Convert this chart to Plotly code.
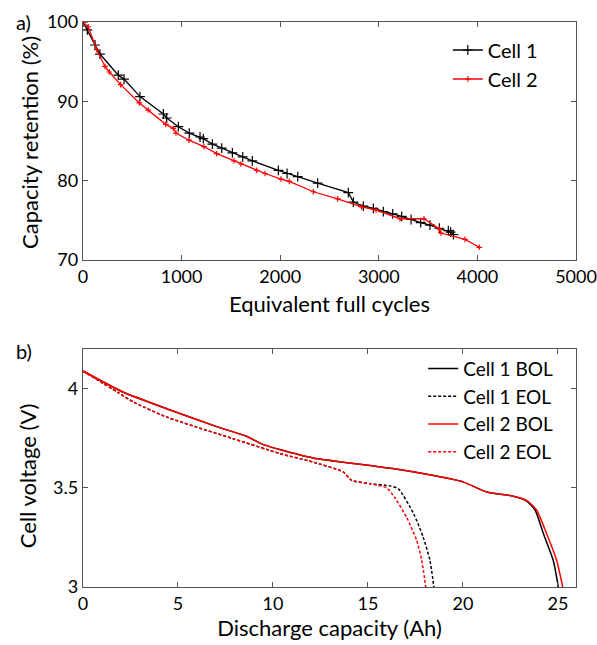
import plotly.graph_objects as go

# ---- Panel a) capacity retention ----
cell1_cycles = [0, 44, 122, 172, 358, 416, 578, 815, 849, 967, 1078, 1187, 1220, 1312, 1407, 1515,
                1620, 1717, 1981, 2070, 2178, 2380, 2691, 2742, 2843, 2945, 3046, 3141, 3232, 3327,
                3425, 3519, 3614, 3705, 3729, 3756]
cell1_ret = [100, 99.0, 97.1, 95.96, 93.3, 92.8, 90.6, 88.4, 87.9, 86.8, 86.0, 85.5, 85.3, 84.6, 84.1,
             83.5, 83.0, 82.5, 81.3, 80.9, 80.5, 79.7, 78.5, 77.3, 76.8, 76.5, 76.1, 75.8, 75.5, 75.1,
             74.7, 74.4, 74.0, 73.7, 73.5, 73.2]

cell2_cycles = [0, 54, 139, 223, 267, 382, 571, 662, 839, 916, 943, 1075, 1227, 1356, 1531, 1602,
                1762, 1846, 2008, 2092, 2336, 2583, 2826, 2972, 3215, 3458, 3614, 3631, 3874, 4019]
cell2_ret = [100, 99.4, 96.5, 94.4, 93.7, 92.1, 89.8, 88.9, 87.1, 86.6, 86.0, 85.1, 84.3, 83.4, 82.5,
             82.1, 81.3, 80.9, 80.2, 79.9, 78.6, 77.7, 76.7, 76.3, 75.2, 75.2, 73.9, 73.4, 72.6, 71.6]

# ---- Panel b) discharge curves ----
c1_bol_q = [0, 2.1, 4.4, 7.0, 8.6, 9.5, 10.4, 12.1, 15.0, 16.3, 18.1, 20.0, 21.25, 22.65, 23.3, 23.8, 24.23, 24.75, 25.02]
c1_bol_v = [4.089, 3.983, 3.899, 3.81, 3.760, 3.718, 3.692, 3.651, 3.614, 3.597, 3.568, 3.530, 3.479, 3.458, 3.437, 3.387, 3.270, 3.135, 3.0]
c2_bol_q = [0, 2.1, 4.4, 7.0, 8.6, 9.5, 10.4, 12.1, 15.0, 16.3, 18.1, 20.0, 21.25, 22.65, 23.35, 23.88, 24.4, 24.93, 25.25]
c2_bol_v = [4.089, 3.983, 3.899, 3.81, 3.760, 3.718, 3.692, 3.651, 3.614, 3.597, 3.568, 3.530, 3.479, 3.458, 3.437, 3.387, 3.270, 3.135, 3.0]
c1_eol_q = [0, 1.85, 2.65, 4.4, 7.9, 10.4, 12.1, 13.7, 14.14, 15.1, 16.16, 16.6, 17.4, 17.9, 18.26, 18.47]
c1_eol_v = [4.089, 3.98, 3.933, 3.857, 3.748, 3.672, 3.63, 3.58, 3.538, 3.521, 3.51, 3.495, 3.37, 3.253, 3.135, 3.0]
c2_eol_q = [0, 1.85, 2.65, 4.4, 7.9, 10.4, 12.1, 13.7, 14.14, 15.1, 15.98, 16.42, 17.04, 17.56, 17.83, 18.04]
c2_eol_v = [4.089, 3.98, 3.933, 3.857, 3.748, 3.672, 3.63, 3.58, 3.538, 3.521, 3.50, 3.45, 3.35, 3.236, 3.135, 3.0]

FONT = "Lato"
AX = "#555555"

fig = go.Figure()
fig.add_trace(go.Scatter(x=cell1_cycles, y=cell1_ret, name="Cell 1", mode="lines+markers",
                         line=dict(color="black", width=1.3),
                         marker=dict(symbol="cross-thin", size=7, line=dict(color="black", width=1.2)),
                         xaxis="x", yaxis="y", legend="legend"))
fig.add_trace(go.Scatter(x=cell2_cycles, y=cell2_ret, name="Cell 2", mode="lines+markers",
                         line=dict(color="red", width=1.3),
                         marker=dict(symbol="cross-thin", size=4, line=dict(color="red", width=1.2)),
                         xaxis="x", yaxis="y", legend="legend"))

fig.add_trace(go.Scatter(x=c1_bol_q, y=c1_bol_v, name="Cell 1 BOL", mode="lines",
                         line=dict(color="black", width=1.5, shape="spline", smoothing=0.6),
                         xaxis="x2", yaxis="y2", legend="legend2"))
fig.add_trace(go.Scatter(x=c1_eol_q, y=c1_eol_v, name="Cell 1 EOL", mode="lines",
                         line=dict(color="black", width=1.5, dash="3px,2px", shape="spline", smoothing=0.6),
                         xaxis="x2", yaxis="y2", legend="legend2"))
fig.add_trace(go.Scatter(x=c2_bol_q, y=c2_bol_v, name="Cell 2 BOL", mode="lines",
                         line=dict(color="red", width=1.5, shape="spline", smoothing=0.6),
                         xaxis="x2", yaxis="y2", legend="legend2"))
fig.add_trace(go.Scatter(x=c2_eol_q, y=c2_eol_v, name="Cell 2 EOL", mode="lines",
                         line=dict(color="red", width=1.5, dash="3px,2px", shape="spline", smoothing=0.6),
                         xaxis="x2", yaxis="y2", legend="legend2"))

axis_common = dict(showline=True, linecolor=AX, linewidth=1.3, mirror="ticks", ticks="inside",
                   ticklen=5, tickcolor=AX, showgrid=False, zeroline=False, automargin=False,
                   tickfont=dict(family=FONT, size=18, color="black"))
TF = dict(family=FONT, size=22)

fig.update_layout(
    width=597, height=645,
    margin=dict(l=83, r=21, t=22, b=58),
    plot_bgcolor="white", paper_bgcolor="white",
    font=dict(family=FONT, size=18, color="black"),
    xaxis=dict(**axis_common, domain=[0, 1], anchor="y", range=[0, 5000],
               tickvals=[0, 1000, 2000, 3000, 4000, 5000],
               title=dict(text="Equivalent full cycles", font=TF, standoff=10)),
    yaxis=dict(**axis_common, domain=[0.5788, 1.0], anchor="x", range=[70, 100],
               tickvals=[70, 80, 90, 100]),
    xaxis2=dict(**axis_common, domain=[0, 1], anchor="y2", range=[0, 25.95],
                tickvals=[0, 5, 10, 15, 20, 25],
                title=dict(text="Discharge capacity (Ah)", font=TF, standoff=3)),
    yaxis2=dict(**axis_common, domain=[0, 0.4212], anchor="x2", range=[3, 4.2],
                tickvals=[3, 3.5, 4], ticktext=["3", "3.5", "4"]),
    legend=dict(x=0.74, y=0.985, xanchor="left", yanchor="top", bgcolor="rgba(0,0,0,0)",
                font=dict(family=FONT, size=20), itemwidth=30, tracegroupgap=0),
    legend2=dict(x=0.69, y=0.42, xanchor="left", yanchor="top", bgcolor="rgba(0,0,0,0)",
                 font=dict(family=FONT, size=19), itemwidth=30, tracegroupgap=0),
    annotations=[
        dict(text="a)", xref="paper", yref="paper", x=-0.14, y=1.0, xanchor="left", yanchor="middle",
             showarrow=False, font=dict(family=FONT, size=20)),
        dict(text="b)", xref="paper", yref="paper", x=-0.14, y=0.418, xanchor="left", yanchor="middle",
             showarrow=False, font=dict(family=FONT, size=20)),
        dict(text="Capacity retention (%)", xref="paper", yref="paper", x=-0.1075, y=0.786,
             xanchor="center", yanchor="middle", textangle=-90, showarrow=False, font=TF),
        dict(text="Cell voltage (V)", xref="paper", yref="paper", x=-0.1136, y=0.198,
             xanchor="center", yanchor="middle", textangle=-90, showarrow=False, font=TF),
    ],
)

fig.write_html("out.html", config={"displayModeBar": False},
               post_script="document.body.style.margin='0';document.body.style.overflow='hidden';")
